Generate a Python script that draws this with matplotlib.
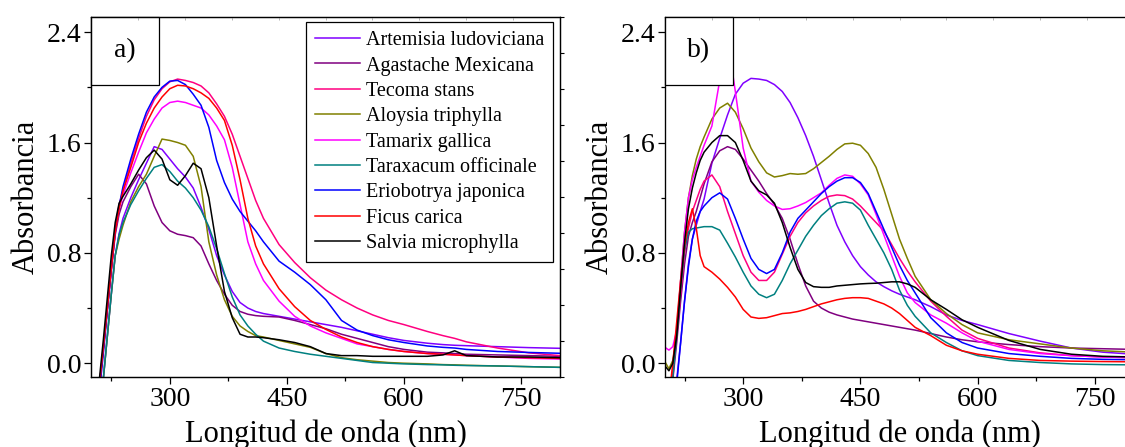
import numpy as np
import matplotlib.pyplot as plt
from matplotlib.patches import Rectangle

plt.rcParams['font.family'] = ['Liberation Serif', 'DejaVu Serif']

nombres = ['Artemisia ludoviciana', 'Agastache Mexicana', 'Tecoma stans',
           'Aloysia triphylla', 'Tamarix gallica', 'Taraxacum officinale',
           'Eriobotrya japonica', 'Ficus carica', 'Salvia microphylla']
colores = ['#8000FF', '#800080', '#FF0080', '#808000', '#FF00FF',
           '#008080', '#0000FF', '#FF0000', '#000000']

# ---- panel a) longitudes de onda (nm) y absorbancias
lam_a = [205, 210, 215, 220, 225, 230, 235,
         240, 250, 260, 270, 280, 290, 300, 310, 320, 330, 340, 350, 360, 370, 380, 390, 400, 410, 420,
         440, 460, 480, 500, 520, 540, 560, 580, 600,
         630, 650, 665, 680, 720, 760, 800]

a_artemisia = [-0.6, -0.35, -0.1, 0.2, 0.5, 0.78, 0.94,
               1.05, 1.2, 1.33, 1.45, 1.57, 1.55, 1.48, 1.41, 1.35, 1.27, 1.13, 0.97, 0.78, 0.64, 0.52, 0.44, 0.4, 0.375, 0.36,
               0.34, 0.32, 0.3, 0.28, 0.26, 0.235, 0.21, 0.185, 0.165,
               0.145, 0.135, 0.13, 0.127, 0.12, 0.113, 0.108]
a_agastache = [-0.45, -0.15, 0.12, 0.4, 0.68, 0.93, 1.08,
               1.17, 1.28, 1.37, 1.3, 1.14, 1.02, 0.96, 0.935, 0.925, 0.91, 0.85, 0.72, 0.6, 0.5, 0.42, 0.375, 0.355, 0.345, 0.34,
               0.335, 0.31, 0.28, 0.25, 0.21, 0.18, 0.15, 0.12, 0.1,
               0.08, 0.075, 0.07, 0.065, 0.06, 0.055, 0.05]
a_tecoma = [-0.45, -0.15, 0.12, 0.4, 0.7, 0.98, 1.15,
            1.25, 1.45, 1.63, 1.79, 1.91, 1.99, 2.04, 2.06, 2.05, 2.035, 2.01, 1.96, 1.88, 1.79, 1.66, 1.5, 1.34, 1.18, 1.05,
            0.86, 0.73, 0.62, 0.53, 0.46, 0.4, 0.35, 0.31, 0.28,
            0.23, 0.2, 0.18, 0.155, 0.11, 0.075, 0.055]
a_aloysia = [-0.6, -0.35, -0.1, 0.2, 0.5, 0.78, 0.9,
             1.0, 1.17, 1.28, 1.37, 1.5, 1.625, 1.615, 1.6, 1.58, 1.5, 1.28, 0.88, 0.64, 0.46, 0.34, 0.27, 0.23, 0.2, 0.19,
             0.165, 0.14, 0.115, 0.07, 0.04, 0.025, 0.015, 0.005, 0.0,
             -0.005, -0.01, -0.012, -0.015, -0.02, -0.025, -0.03]
a_tamarix = [-0.45, -0.15, 0.12, 0.4, 0.68, 0.95, 1.12,
             1.22, 1.38, 1.53, 1.67, 1.77, 1.85, 1.89, 1.9, 1.89, 1.87, 1.85, 1.8, 1.72, 1.62, 1.42, 1.15, 0.88, 0.72, 0.6,
             0.45, 0.34, 0.27, 0.22, 0.18, 0.14, 0.12, 0.1, 0.085,
             0.07, 0.065, 0.06, 0.055, 0.045, 0.035, 0.03]
a_taraxacum = [-0.6, -0.35, -0.1, 0.2, 0.5, 0.78, 0.93,
               1.02, 1.15, 1.25, 1.34, 1.42, 1.44, 1.39, 1.32, 1.27, 1.2, 1.11, 0.99, 0.83, 0.65, 0.48, 0.35, 0.27, 0.21, 0.16,
               0.11, 0.085, 0.065, 0.05, 0.035, 0.02, 0.005, 0.0, -0.005,
               -0.01, -0.012, -0.015, -0.017, -0.02, -0.025, -0.03]
a_eriobotrya = [-0.5, -0.2, 0.08, 0.38, 0.67, 0.95, 1.14,
                1.28, 1.48, 1.66, 1.82, 1.93, 2.0, 2.045, 2.05, 2.02, 1.95, 1.87, 1.71, 1.47, 1.31, 1.19, 1.1, 1.03, 0.96, 0.88,
                0.74, 0.66, 0.57, 0.46, 0.31, 0.24, 0.2, 0.17, 0.15,
                0.125, 0.115, 0.11, 0.1, 0.085, 0.078, 0.072]
a_ficus = [-0.45, -0.15, 0.12, 0.4, 0.68, 0.95, 1.12,
           1.25, 1.42, 1.6, 1.74, 1.85, 1.93, 1.99, 2.015, 2.01, 1.99, 1.96, 1.92, 1.85, 1.76, 1.58, 1.33, 1.05, 0.85, 0.72,
           0.54, 0.41, 0.31, 0.245, 0.19, 0.15, 0.12, 0.1, 0.085,
           0.07, 0.065, 0.06, 0.055, 0.045, 0.04, 0.035]
a_salvia = [-0.4, -0.1, 0.18, 0.48, 0.78, 1.02, 1.16,
            1.21, 1.3, 1.4, 1.49, 1.545, 1.48, 1.33, 1.29, 1.36, 1.45, 1.41, 1.2, 0.85, 0.52, 0.33, 0.21, 0.19, 0.19, 0.185,
            0.17, 0.15, 0.12, 0.07, 0.055, 0.055, 0.05, 0.05, 0.05,
            0.05, 0.06, 0.09, 0.055, 0.045, 0.045, 0.04]

# ---- panel b)
lam_b = [200, 205, 210, 215, 220, 225, 230, 235, 240, 245, 250,
         260, 270, 280, 290, 300, 310, 320, 330, 340, 350, 360, 370, 380, 390, 400, 410, 420,
         430, 440, 450, 460, 470, 480, 490, 500, 510, 520,
         540, 560, 580, 600, 640, 680, 720, 760, 800]

b_artemisia = [-0.6, -0.45, -0.3, -0.12, 0.15, 0.45, 0.72, 0.9, 1.0, 1.1, 1.19,
               1.45, 1.63, 1.8, 1.95, 2.03, 2.065, 2.06, 2.05, 2.02, 1.97, 1.89, 1.78, 1.65, 1.5, 1.33, 1.16, 1.0,
               0.88, 0.78, 0.7, 0.64, 0.59, 0.555, 0.525, 0.5, 0.48, 0.46,
               0.41, 0.35, 0.31, 0.28, 0.215, 0.16, 0.11, 0.08, 0.065]
b_agastache = [-0.45, -0.3, -0.12, 0.15, 0.45, 0.72, 0.92, 1.02, 1.1, 1.2, 1.3,
               1.46, 1.54, 1.57, 1.55, 1.48, 1.4, 1.32, 1.23, 1.15, 1.05, 0.9, 0.72, 0.56, 0.45, 0.4, 0.37, 0.35,
               0.335, 0.32, 0.31, 0.3, 0.29, 0.28, 0.27, 0.26, 0.25, 0.24,
               0.215, 0.19, 0.17, 0.155, 0.135, 0.12, 0.11, 0.105, 0.1]
b_tecoma = [-0.4, -0.25, -0.05, 0.2, 0.5, 0.8, 0.98, 1.1, 1.18, 1.26, 1.32,
            1.365, 1.28, 1.1, 0.94, 0.78, 0.66, 0.6, 0.6, 0.66, 0.79, 0.92, 1.02, 1.09, 1.14, 1.18, 1.21, 1.22,
            1.215, 1.19, 1.14, 1.08, 1.02, 0.96, 0.86, 0.76, 0.67, 0.59,
            0.45, 0.34, 0.24, 0.18, 0.11, 0.075, 0.055, 0.045, 0.04]
b_aloysia = [0.01, -0.04, 0.02, 0.2, 0.6, 0.95, 1.2, 1.36, 1.48, 1.57, 1.64,
             1.77, 1.85, 1.885, 1.82, 1.7, 1.56, 1.46, 1.38, 1.35, 1.36, 1.375, 1.37, 1.375, 1.41, 1.455, 1.5, 1.55,
             1.59, 1.595, 1.58, 1.52, 1.42, 1.26, 1.08, 0.9, 0.76, 0.63,
             0.46, 0.36, 0.28, 0.22, 0.17, 0.14, 0.11, 0.09, 0.08]
b_tamarix = [0.115, 0.095, 0.12, 0.24, 0.6, 0.95, 1.2, 1.33, 1.42, 1.5, 1.58,
             1.72, 2.05, 2.35, 1.97, 1.56, 1.32, 1.24, 1.18, 1.14, 1.115, 1.12, 1.14, 1.165, 1.2, 1.235, 1.29, 1.34,
             1.365, 1.355, 1.3, 1.22, 1.08, 0.93, 0.78, 0.63, 0.51, 0.44,
             0.35, 0.29, 0.22, 0.16, 0.1, 0.07, 0.055, 0.045, 0.04]
b_taraxacum = [-0.45, -0.3, -0.1, 0.2, 0.55, 0.82, 0.95, 0.975, 0.98, 0.985, 0.99,
               0.99, 0.965, 0.87, 0.77, 0.66, 0.56, 0.5, 0.475, 0.5, 0.6, 0.72, 0.82, 0.92, 1.0, 1.07, 1.12, 1.16,
               1.17, 1.16, 1.11, 1.0, 0.9, 0.8, 0.68, 0.53, 0.42, 0.34,
               0.22, 0.15, 0.09, 0.055, 0.02, 0.005, -0.005, -0.01, -0.012]
b_eriobotrya = [-0.6, -0.45, -0.3, -0.15, 0.15, 0.45, 0.7, 0.9, 1.03, 1.1, 1.14,
                1.2, 1.235, 1.19, 1.05, 0.9, 0.76, 0.68, 0.65, 0.68, 0.8, 0.95, 1.05, 1.11, 1.17, 1.23, 1.28, 1.32,
                1.345, 1.345, 1.31, 1.23, 1.1, 0.97, 0.84, 0.71, 0.6, 0.51,
                0.33, 0.22, 0.15, 0.11, 0.07, 0.05, 0.035, 0.028, 0.025]
b_ficus = [-0.4, -0.25, 0.0, 0.3, 0.6, 0.85, 1.02, 1.12, 0.98, 0.78, 0.7,
           0.66, 0.61, 0.55, 0.48, 0.39, 0.335, 0.325, 0.33, 0.345, 0.36, 0.365, 0.375, 0.39, 0.41, 0.43, 0.445, 0.46,
           0.47, 0.475, 0.475, 0.47, 0.45, 0.43, 0.4, 0.36, 0.31, 0.26,
           0.2, 0.13, 0.09, 0.065, 0.035, 0.02, 0.015, 0.012, 0.01]
b_salvia = [-0.02, -0.055, 0.0, 0.2, 0.55, 0.88, 1.12, 1.27, 1.38, 1.47, 1.53,
            1.6, 1.65, 1.65, 1.6, 1.47, 1.32, 1.25, 1.22, 1.16, 1.02, 0.84, 0.68, 0.585, 0.555, 0.55, 0.55, 0.56,
            0.565, 0.57, 0.575, 0.578, 0.58, 0.585, 0.59, 0.59, 0.575, 0.55,
            0.46, 0.39, 0.315, 0.26, 0.165, 0.1, 0.065, 0.05, 0.045]

serie_a = [a_artemisia, a_agastache, a_tecoma, a_aloysia, a_tamarix,
           a_taraxacum, a_eriobotrya, a_ficus, a_salvia]
serie_b = [b_artemisia, b_agastache, b_tecoma, b_aloysia, b_tamarix,
           b_taraxacum, b_eriobotrya, b_ficus, b_salvia]

W, H = 1125, 447
fig = plt.figure(figsize=(W / 100, H / 100), dpi=100)

# posiciones en pixeles del original
ax1 = fig.add_axes([91 / W, (H - 377) / H, 469 / W, 360 / H])
ax2 = fig.add_axes([665 / W, (H - 377) / H, 460 / W, 360 / H])


def estilo(ax, xmin, xmax, xc):
    ax.set_xlim(xmin, xmax)
    ax.set_ylim(-0.1, 2.51)
    ax.set_xticks([300, 450, 600, 750])
    ax.set_xticks([225, 375, 525, 675], minor=True)
    ax.set_yticks([0.0, 0.8, 1.6, 2.4])
    ax.set_yticks([0.4, 1.2, 2.0], minor=True)
    ax.set_yticklabels(['0.0', '0.8', '1.6', '2.4'])
    ax.tick_params(which='major', direction='out', length=5, width=0.9, labelsize=20, pad=2)
    ax.tick_params(which='minor', direction='out', length=3, width=0.9)
    ax.tick_params(right=False, top=False)
    for s in ax.spines.values():
        s.set_linewidth(0.9)
    ax.set_xlabel('Longitud de onda (nm)', fontsize=22)
    ax.xaxis.set_label_coords(xc, -0.118)
    ax.set_ylabel('Absorbancia', fontsize=22, labelpad=4)


def caja(ax, texto, ancho_px):
    w = 68 / ancho_px
    h = 68 / 360
    ax.add_patch(Rectangle((0, 1 - h), w, h, transform=ax.transAxes,
                           facecolor='white', edgecolor='black', lw=0.9,
                           zorder=10, clip_on=False))
    ax.text(w / 2, 1 - h / 2, texto, transform=ax.transAxes, fontsize=20,
            ha='center', va='center', zorder=11)


for y, c, n in zip(serie_a, colores, nombres):
    ax1.plot(lam_a, y, color=c, lw=1.1, label=n)
estilo(ax1, 199, 800, 0.5)
caja(ax1, 'a)', 469)
leg = ax1.legend(loc='upper right', bbox_to_anchor=(0.985, 0.986), fontsize=14.5,
                 frameon=True, fancybox=False, edgecolor='black', framealpha=1,
                 handlelength=2.2, handletextpad=0.3, labelspacing=0.31,
                 borderpad=0.45, borderaxespad=0)
leg.get_frame().set_linewidth(0.9)
leg.set_zorder(12)

# marcas del eje derecho y superior (10 divisiones)
axr = ax1.twinx()
axr.set_ylim(0, 1)
axr.set_yticks(np.linspace(0, 1, 11))
axr.tick_params(axis='y', direction='out', length=3, width=0.8, labelright=False)
axt = ax1.twiny()
axt.set_xlim(0, 1)
axt.set_xticks(np.linspace(0, 1, 11))
axt.tick_params(axis='x', direction='in', length=2, width=0.5, color='0.6', labeltop=False)

for y, c in zip(serie_b, colores):
    ax2.plot(lam_b, y, color=c, lw=1.1)
estilo(ax2, 200, 788.5, 469 / 460 / 2)
ax2.spines['right'].set_visible(False)
caja(ax2, 'b)', 460)
axt2 = ax2.twiny()
axt2.set_xlim(0, 460 / 469)
axt2.set_xticks(np.linspace(0, 0.9, 10))
axt2.tick_params(axis='x', direction='in', length=2, width=0.5, color='0.6', labeltop=False)
axt2.spines['right'].set_visible(False)

plt.savefig('out.png', dpi=100)
